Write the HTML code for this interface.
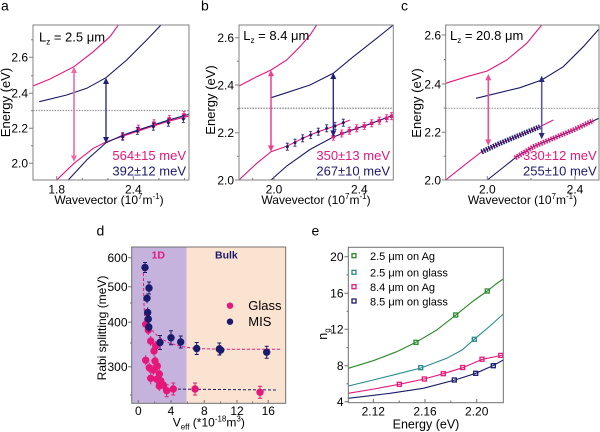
<!DOCTYPE html>
<html><head><meta charset="utf-8"><style>
html,body{margin:0;padding:0;background:#fff}
svg{display:block}
text{font-family:"Liberation Sans",Arial,sans-serif}
</style></head><body>
<svg width="600" height="432" viewBox="0 0 600 432" xmlns="http://www.w3.org/2000/svg">
<defs>
<clipPath id="ca"><rect x="33" y="25" width="156" height="155"/></clipPath>
<clipPath id="cb"><rect x="239" y="25" width="154.3" height="155"/></clipPath>
<clipPath id="cc"><rect x="445.7" y="25" width="153.3" height="155"/></clipPath>
<g id="nd"><path d="M0,-3.5V3.5M-1.5,-3.5H1.5M-1.5,3.5H1.5" stroke="#1b1b6b" stroke-width="0.8" fill="none"/><path d="M0,-2.3L1.8,0L0,2.3L-1.8,0Z" fill="#1b1b6b"/></g>
<g id="ps"><path d="M0,-3.5V3.5M-1.5,-3.5H1.5M-1.5,3.5H1.5" stroke="#e6177a" stroke-width="0.8" fill="none"/><rect x="-1.8" y="-1.8" width="3.6" height="3.6" fill="#e6177a"/></g>
</defs>

<!-- ============ Panel a ============ -->
<text x="1" y="10.5" font-size="14">a</text>
<g clip-path="url(#ca)" fill="none" stroke-width="1.1">
<line x1="33" y1="110.5" x2="189" y2="110.5" stroke="#999" stroke-dasharray="1.5,1.2" stroke-width="1.2"/>
<polyline stroke="#e6177a" points="33,86 50,79 74,66.7 93.3,51.7 110,36.7 118.3,25 121,20"/>
<polyline stroke="#1b1b6b" points="39.3,101.7 66.7,95 86.7,88.3 106,77.7 126.7,60 146.7,40 161,25 166,19"/>
<polyline stroke="#e6177a" points="53,185 56.7,180 74,163.3 93.3,148.3 106,142 123.3,136 143.3,129.3 166.7,121.7 189,116"/>
<polyline stroke="#1b1b6b" points="65,185 68.3,180 86.7,160 106,142.7 123.3,135 143.3,128.3 166.7,120.7 189,114.3"/>
</g>
<use href="#ps" x="122.7" y="136"/><use href="#ps" x="138.3" y="128.7"/><use href="#ps" x="154" y="123.3"/><use href="#ps" x="169.3" y="119"/><use href="#ps" x="184" y="115"/>
<use href="#nd" x="122.7" y="136.7"/><use href="#nd" x="137.3" y="131"/><use href="#nd" x="153.3" y="126.7"/><use href="#nd" x="168.3" y="122.7"/><use href="#nd" x="183.3" y="119"/>
<!-- arrows a -->
<line x1="74" y1="71" x2="74" y2="157" stroke="#f06aa6" stroke-width="1.6"/>
<polygon points="74,66.7 71,73 77,73" fill="#f06aa6"/><polygon points="74,161.7 71,155.5 77,155.5" fill="#f06aa6"/>
<line x1="106" y1="82" x2="106" y2="139" stroke="#1f1f7a" stroke-width="1.3"/>
<polygon points="106,77.7 103,84 109,84" fill="#1f1f7a"/><polygon points="106,143.3 103,137 109,137" fill="#1f1f7a"/>
<rect x="33" y="25" width="156" height="155" fill="none" stroke="#808080" stroke-width="1"/>
<path d="M29,57.3H33M29,93.3H33M29,128.3H33M29,163.3H33M31,39.8H33M31,75.8H33M31,110.8H33M31,145.8H33M56.7,180V176M133.3,180V176M82.3,180V178M107.9,180V178M158.9,180V178M184.5,180V178" stroke="#808080" stroke-width="1"/>
<g font-size="12" text-anchor="end"><text x="28" y="61.6">2.6</text><text x="28" y="97.6">2.4</text><text x="28" y="132.6">2.2</text><text x="28" y="167.6">2.0</text></g>
<g font-size="12" text-anchor="middle"><text x="56.7" y="193.3">1.8</text><text x="133.3" y="193.3">2.4</text></g>
<text x="39" y="41.5" font-size="13">L<tspan font-size="8" dy="3">z</tspan><tspan dy="-3"> = 2.5 μm</tspan></text>
<text x="186" y="160" font-size="13" fill="#e6177a" text-anchor="end">564±15 meV</text>
<text x="186" y="175.5" font-size="13" fill="#1b1b6b" text-anchor="end">392±12 meV</text>
<text x="109" y="204" font-size="12" text-anchor="middle">Wavevector (10<tspan font-size="8" dy="-5">7</tspan><tspan dy="5">m</tspan><tspan font-size="8" dy="-5">-1</tspan><tspan dy="5">)</tspan></text>
<text transform="translate(10,102.5) rotate(-90)" font-size="13" text-anchor="middle">Energy (eV)</text>

<!-- ============ Panel b ============ -->
<text x="201" y="10.5" font-size="14">b</text>
<g clip-path="url(#cb)" fill="none" stroke-width="1.1">
<line x1="239" y1="108.3" x2="393.3" y2="108.3" stroke="#999" stroke-dasharray="1.5,1.2" stroke-width="1.6"/>
<polyline stroke="#e6177a" points="239,86 256.7,76.7 271,70 286.7,60 300,46.7 310,35 316.7,25 320,19"/>
<polyline stroke="#1b1b6b" points="271,97.7 286.7,92.7 310,85 333.3,73.3 353.3,56.7 376.7,38.3 393.3,25"/>
<polyline stroke="#e6177a" points="239,180 256.7,163.3 271,151.7 287.3,146 302.7,138.3 318.3,131.7 335,126 350,120"/>
<polyline stroke="#1b1b6b" points="271,180 286.7,166 310,149.5 333.3,137 350,130.7 371.7,123.3 393.3,115"/>
</g>
<use href="#nd" x="287.3" y="146.7"/><use href="#nd" x="295" y="142.7"/><use href="#nd" x="302.7" y="138.3"/><use href="#nd" x="310.7" y="135"/><use href="#nd" x="318.3" y="131.7"/><use href="#nd" x="326.7" y="128.3"/><use href="#nd" x="335" y="126"/><use href="#nd" x="343.3" y="122.7"/>
<use href="#ps" x="333.3" y="136.7"/><use href="#ps" x="341.7" y="133.5"/><use href="#ps" x="349.3" y="130.7"/><use href="#ps" x="356.7" y="128.3"/><use href="#ps" x="364.3" y="126"/><use href="#ps" x="371.7" y="123.3"/><use href="#ps" x="379.3" y="120.7"/><use href="#ps" x="386.7" y="118.3"/><use href="#ps" x="391.7" y="116.2"/>
<line x1="271" y1="74" x2="271" y2="147" stroke="#ee3f8f" stroke-width="1.5"/>
<polygon points="271,70 268,76.3 274,76.3" fill="#ee3f8f"/><polygon points="271,151.7 268,145.4 274,145.4" fill="#ee3f8f"/>
<line x1="333.3" y1="77" x2="333.3" y2="132" stroke="#1f1f7a" stroke-width="1.3"/>
<polygon points="333.3,72.7 330.3,79 336.3,79" fill="#1f1f7a"/><polygon points="333.3,136.7 330.3,130.4 336.3,130.4" fill="#1f1f7a"/>
<rect x="239" y="25" width="154.3" height="155" fill="none" stroke="#808080" stroke-width="1"/>
<path d="M235,37.7H239M235,85H239M235,132.7H239M235,180H239M237,61.3H239M237,108.8H239M237,156.3H239M274,180V176M359.3,180V176M316.7,180V178M252.7,180V178" stroke="#808080" stroke-width="1"/>
<g font-size="12" text-anchor="end"><text x="234" y="42">2.6</text><text x="234" y="89.3">2.4</text><text x="234" y="137">2.2</text><text x="234" y="184.3">2.0</text></g>
<g font-size="12" text-anchor="middle"><text x="274" y="193.3">2.0</text><text x="359.3" y="193.3">2.4</text></g>
<text x="243.3" y="40" font-size="13">L<tspan font-size="8" dy="3">z</tspan><tspan dy="-3"> = 8.4 μm</tspan></text>
<text x="390" y="160" font-size="13" fill="#e6177a" text-anchor="end">350±13 meV</text>
<text x="390" y="175.7" font-size="13" fill="#1b1b6b" text-anchor="end">267±10 meV</text>
<text x="316" y="204" font-size="12" text-anchor="middle">Wavevector (10<tspan font-size="8" dy="-5">7</tspan><tspan dy="5">m</tspan><tspan font-size="8" dy="-5">-1</tspan><tspan dy="5">)</tspan></text>
<text transform="translate(215,100) rotate(-90)" font-size="13" text-anchor="middle">Energy (eV)</text>

<!-- ============ Panel c ============ -->
<text x="401" y="10.5" font-size="14">c</text>
<g clip-path="url(#cc)" fill="none" stroke-width="1.1">
<line x1="445.7" y1="108.3" x2="599" y2="108.3" stroke="#999" stroke-dasharray="1.5,1.2" stroke-width="1.2"/>
<polyline stroke="#e6177a" points="445.7,83.3 466.7,76.7 487.3,71 506.7,60 526.7,43.3 541.7,25 545,20"/>
<polyline stroke="#1b1b6b" points="476,98.3 496.7,93.3 520,87.7 541.7,80 563.3,66.7 583.3,46.7 599,29"/>
<polyline stroke="#e6177a" points="445.7,180 466.7,163.3 481.7,151.7 500,143.3 520,135 540,126.7 553.3,120"/>
<polyline stroke="#1b1b6b" points="487.3,180 500,170 516.7,156.7 533.3,146.7 553.3,138.3 573.3,130 599,118.3"/>
<polyline stroke="#1b1b6b" stroke-width="5" stroke-dasharray="1.6,1" points="481.5,152 500,143.3 520,135 540,126.7"/>
<polyline stroke="#e6177a" stroke-width="5" stroke-dasharray="1.6,1.1" points="515,158 533.3,146.7 553.3,138.3 573.3,130 593.3,120.5"/>
</g>
<line x1="488.3" y1="78" x2="488.3" y2="141" stroke="#ee4e98" stroke-width="1.6"/>
<polygon points="488.3,74 485.3,80.3 491.3,80.3" fill="#ee4e98"/><polygon points="488.3,145.7 485.3,139.4 491.3,139.4" fill="#ee4e98"/>
<line x1="541.7" y1="80" x2="541.7" y2="135" stroke="#5b5ba5" stroke-width="1.6"/>
<polygon points="541.7,75.7 538.7,82 544.7,82" fill="#2a2a80"/><polygon points="541.7,139.3 538.7,133 544.7,133" fill="#2a2a80"/>
<rect x="445.7" y="25" width="153.3" height="155" fill="none" stroke="#808080" stroke-width="1"/>
<path d="M441.7,35H445.7M441.7,84H445.7M441.7,132.3H445.7M441.7,180H445.7M443.7,59.5H445.7M443.7,108H445.7M443.7,156.2H445.7M487.3,180V176M575,180V176M531,180V178" stroke="#808080" stroke-width="1"/>
<g font-size="12" text-anchor="end"><text x="441" y="39.3">2.6</text><text x="441" y="88.3">2.4</text><text x="441" y="136.6">2.2</text><text x="441" y="184.3">2.0</text></g>
<g font-size="12" text-anchor="middle"><text x="487.3" y="193.3">2.0</text><text x="575" y="193.3">2.4</text></g>
<text x="450" y="40" font-size="13">L<tspan font-size="8" dy="3">z</tspan><tspan dy="-3"> = 20.8 μm</tspan></text>
<text x="596.7" y="160" font-size="13" fill="#e6177a" text-anchor="end">330±12 meV</text>
<text x="596.7" y="175.7" font-size="13" fill="#1b1b6b" text-anchor="end">255±10 meV</text>
<text x="522.5" y="204" font-size="12" text-anchor="middle">Wavevector (10<tspan font-size="8" dy="-5">7</tspan><tspan dy="5">m</tspan><tspan font-size="8" dy="-5">-1</tspan><tspan dy="5">)</tspan></text>
<text transform="translate(421,103) rotate(-90)" font-size="13" text-anchor="middle">Energy (eV)</text>

<!-- ============ Panel d ============ -->
<text x="96.5" y="235.5" font-size="14">d</text>
<rect x="131.7" y="247" width="55" height="156.3" fill="#c5b3de"/>
<rect x="186.7" y="247" width="99" height="156.3" fill="#fbe3d2"/>
<text x="151.5" y="258.3" font-size="10.5" font-weight="bold" fill="#e6177a">1D</text>
<text x="215" y="258.3" font-size="10.5" font-weight="bold" fill="#1b1b6b">Bulk</text>
<path d="M143.3,268 L143.8,300 L144.8,322 L150,328.3 L158.3,336.7 L168.3,342.7 L181.7,346.5 L195,348.5 L220,349.2 L281,349.3" fill="none" stroke="#e6177a" stroke-width="1" stroke-dasharray="3,2"/>
<path d="M163,389 L277,390" fill="none" stroke="#1b1b6b" stroke-width="1" stroke-dasharray="3,2"/>
<g stroke="#e6177a" stroke-width="1" fill="#e6177a">
<path d="M145.7,319.3V329.3M148.3,325V335M150.7,336V346M145.7,355.3V365.3M149.3,362.7V372.7M150.7,372.3V384.3M153.3,365V375M154,346V356M155.7,341V351M155,356V366M157.3,361V371M159.3,369V379M156.7,374.3V384.3M160.7,375.7V385.7M163.3,380V390M159.3,381V391M166.7,384.7V396.7M173.3,383V395M195,383V395M260,386.3V398.3"/>
<path d="M171.3,383H175.3M171.3,395H175.3M193,383H197M193,395H197M258,386.3H262M258,398.3H262M164.7,384.7H168.7M164.7,396.7H168.7" />
<circle cx="145.7" cy="324.3" r="3.2"/><circle cx="148.3" cy="330" r="3.2"/><circle cx="150.7" cy="341" r="3.2"/><circle cx="145.7" cy="360.3" r="3.2"/><circle cx="149.3" cy="367.7" r="3.2"/><circle cx="150.7" cy="378.3" r="3.2"/><circle cx="153.3" cy="370" r="3.2"/><circle cx="154" cy="351" r="3.2"/><circle cx="155.7" cy="346" r="3.2"/><circle cx="155" cy="361" r="3.2"/><circle cx="157.3" cy="366" r="3.2"/><circle cx="159.3" cy="374" r="3.2"/><circle cx="156.7" cy="379.3" r="3.2"/><circle cx="160.7" cy="380.7" r="3.2"/><circle cx="163.3" cy="385" r="3.2"/><circle cx="159.3" cy="386" r="3.2"/><circle cx="166.7" cy="390.7" r="3.2"/><circle cx="173.3" cy="389" r="3.2"/><circle cx="195" cy="389" r="3.2"/><circle cx="260" cy="392.3" r="3.2"/>
</g>
<g stroke="#1b1b6b" stroke-width="1" fill="#1b1b6b">
<path d="M145,262.5V272.5M143,262.5H147M143,272.5H147M149,282V294M147,282H151M147,294H151M147,293.3V303.3M147.7,307.5V317.5M148.3,314V324M148.8,322V332M160,335.5V349.5M158,335.5H162M158,349.5H162M171,330.7V344.7M169,330.7H173M169,344.7H173M180.7,336V348M178.7,336H182.7M178.7,348H182.7M196.7,342.5V354.5M194.7,342.5H198.7M194.7,354.5H198.7M219.3,343V355M217.3,343H221.3M217.3,355H221.3M220.7,345V355M266.7,346.3V358.3M264.7,346.3H268.7M264.7,358.3H268.7"/>
<circle cx="145" cy="267.5" r="3.2"/><circle cx="149" cy="288" r="3.2"/><circle cx="147" cy="298.3" r="3.2"/><circle cx="147.7" cy="312.5" r="3.2"/><circle cx="148.3" cy="319" r="3.2"/><circle cx="148.8" cy="327" r="3.2"/><circle cx="160" cy="342.5" r="3.2"/><circle cx="171" cy="337.7" r="3.2"/><circle cx="180.7" cy="342" r="3.2"/><circle cx="196.7" cy="348.5" r="3.2"/><circle cx="219.3" cy="349" r="3.2"/><circle cx="220.7" cy="350" r="3.2"/><circle cx="266.7" cy="352.3" r="3.2"/>
</g>
<circle cx="230" cy="305.7" r="3.2" fill="#e6177a"/>
<circle cx="230" cy="321.7" r="3.2" fill="#1b1b6b"/>
<text x="248.3" y="310" font-size="13">Glass</text>
<text x="248.3" y="326" font-size="13">MIS</text>
<rect x="131.7" y="247" width="154" height="156.3" fill="none" stroke="#707070" stroke-width="1"/>
<path d="M128,257.7H131.7M128,286.7H131.7M128,322.3H131.7M128,366.7H131.7M130,303H131.7M130,343H131.7M130,395H131.7M138.3,403.3V400M171,403.3V400M204.3,403.3V400M237,403.3V400M268.3,403.3V400M154.6,403.3V401.5M187.6,403.3V401.5M220.6,403.3V401.5M252.6,403.3V401.5" stroke="#707070" stroke-width="1"/>
<g font-size="12" text-anchor="end"><text x="127.5" y="262">600</text><text x="127.5" y="291">500</text><text x="127.5" y="326.6">400</text><text x="127.5" y="371">300</text></g>
<g font-size="12" text-anchor="middle"><text x="138.3" y="415">0</text><text x="171" y="415">4</text><text x="204.3" y="415">8</text><text x="237" y="415">12</text><text x="268.3" y="415">16</text></g>
<text x="172.7" y="426.7" font-size="12">V<tspan font-size="8" dy="3">eff</tspan><tspan dy="-3"> (*10</tspan><tspan font-size="8" dy="-5">-18</tspan><tspan dy="5">m</tspan><tspan font-size="8" dy="-5">3</tspan><tspan dy="5">)</tspan></text>
<text transform="translate(106,328) rotate(-90)" font-size="12" text-anchor="middle">Rabi splitting (meV)</text>

<!-- ============ Panel e ============ -->
<text x="311.5" y="235.5" font-size="14">e</text>
<g fill="none" stroke-width="1.1">
<polyline stroke="#2a8a2a" points="348.3,368.3 373.3,360.7 396.7,351.7 416,342.3 436.7,330 455.5,315.3 473.3,301 487.3,291 496,284 503.3,279"/>
<polyline stroke="#2b8b8b" points="348.3,386 373.3,380 400,373.3 421,368 446.7,358.3 462,350 474.3,339.3 490,326 503.3,314"/>
<polyline stroke="#e6177a" points="348.3,393.3 374,389 399.3,384.3 424.3,379 443.3,373.7 462.7,367.7 482.3,359.3 503.3,355"/>
<polyline stroke="#1b1b6b" points="348.3,398.3 390,393.3 423.3,388.3 455,380 475.7,373.3 493.3,365.5 503.3,360"/>
</g>
<g fill="none" stroke-width="1.3">
<g stroke="#2a8a2a"><rect x="414" y="340.3" width="4" height="4"/><rect x="453.7" y="313" width="4" height="4"/><rect x="485.3" y="289" width="4" height="4"/><rect x="352" y="253.7" width="4" height="4"/></g>
<g stroke="#2b8b8b"><rect x="418.7" y="365.7" width="4" height="4"/><rect x="472.3" y="337.3" width="4" height="4"/><rect x="352" y="270.3" width="4" height="4"/></g>
<g stroke="#e6177a"><rect x="397.3" y="382.3" width="4" height="4"/><rect x="422.3" y="377" width="4" height="4"/><rect x="441.3" y="371.7" width="4" height="4"/><rect x="460.7" y="365.5" width="4" height="4"/><rect x="480" y="357.2" width="4" height="4"/><rect x="498.8" y="353.4" width="4" height="4"/><rect x="352" y="284.7" width="4" height="4"/></g>
<g stroke="#1b1b6b"><rect x="452.3" y="378" width="4" height="4"/><rect x="473.7" y="371.3" width="4" height="4"/><rect x="491.3" y="363.7" width="4" height="4"/><rect x="352" y="299" width="4" height="4"/></g>
</g>
<g font-size="11"><text x="370" y="260">2.5 μm on Ag</text><text x="370" y="276.5">2.5 μm on glass</text><text x="370" y="291">8.4 μm on Ag</text><text x="370" y="305.3">8.5 μm on glass</text></g>
<rect x="348.3" y="247.3" width="155" height="155.4" fill="none" stroke="#707070" stroke-width="1"/>
<path d="M344.5,256.7H348.3M344.5,293.3H348.3M344.5,329.3H348.3M344.5,365.7H348.3M344.5,401.7H348.3M346.5,275H348.3M346.5,311.3H348.3M346.5,347.5H348.3M346.5,383.7H348.3M373.3,402.7V399M425,402.7V399M476.7,402.7V399M399.2,402.7V400.5M450.8,402.7V400.5" stroke="#707070" stroke-width="1"/>
<g font-size="12" text-anchor="end"><text x="343.5" y="261">20</text><text x="343.5" y="297.6">16</text><text x="343.5" y="333.6">12</text><text x="343.5" y="370">8</text><text x="343.5" y="406">4</text></g>
<g font-size="12" text-anchor="middle"><text x="373.3" y="415.7">2.12</text><text x="425" y="415.7">2.16</text><text x="476.7" y="415.7">2.20</text></g>
<text x="426" y="428.3" font-size="12.5" text-anchor="middle">Energy (eV)</text>
<text transform="translate(327,334) rotate(-90)" font-size="12.5" text-anchor="middle">n<tspan font-size="8" dy="3">g</tspan></text>
</svg>
</body></html>
